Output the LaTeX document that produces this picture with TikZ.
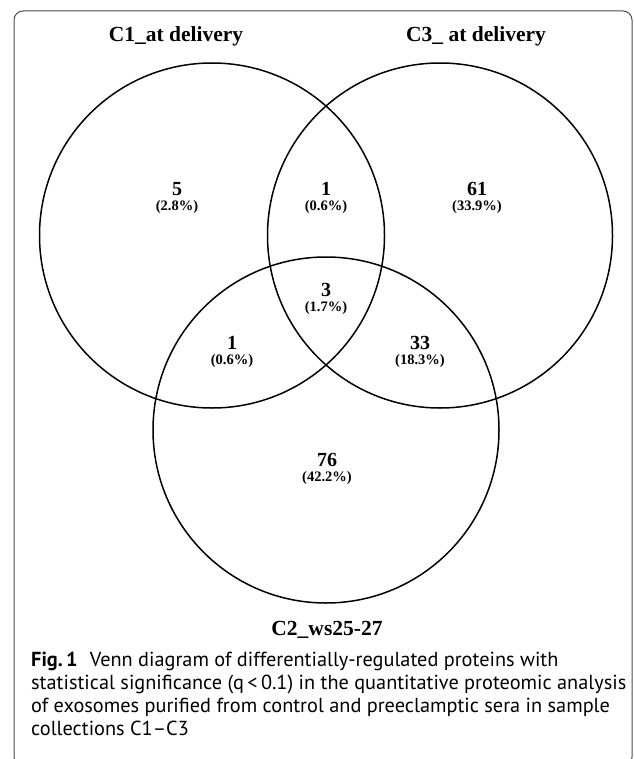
\documentclass[tikz,border=0pt]{standalone}
\usepackage{fontspec}
\setmainfont{Liberation Serif}
\newfontfamily\capfont{PT Sans}
\begin{document}
\begin{tikzpicture}[x=1pt,y=-1pt,
  venn/.style={line width=1.5pt,draw=black},
  setlabel/.style={anchor=base,inner sep=0pt,font=\fontsize{21.5}{24}\selectfont\bfseries},
  num/.style={anchor=base,inner sep=0pt,font=\fontsize{20}{22}\selectfont\bfseries},
  pct/.style={anchor=base,inner sep=0pt,font=\fontsize{14.5}{16}\selectfont\bfseries},
  capline/.style={anchor=base west,inner sep=0pt,font=\capfont\fontsize{20.3}{23}\selectfont}]
\useasboundingbox (0,0) rectangle (633,759);
\begin{scope}
\clip (0,0) rectangle (633,759);
\draw[line width=1pt,draw=black!70,rounded corners=9pt] (14,11) rectangle (632,766);
\end{scope}
% circles
\draw[venn] (212,235.5) circle (172.5);
\draw[venn] (440,235.5) circle (172.5);
\draw[venn] (326,430) circle (173);
% set labels
\node[setlabel] (lc1) at (176,42) {C1\_at delivery};
\node[setlabel] (lc3) at (476,42) {C3\_ at delivery};
\node[setlabel] (lc2) at (327,635) {C2\_ws25-27};
% region counts
\node[num] (n5) at (177,196) {5};
\node[pct] (p5) at (177,211) {(2.8\%)};
\node[num] (n1a) at (326,196) {1};
\node[pct] (p1a) at (326,211) {(0.6\%)};
\node[num] (n61) at (477,195.5) {61};
\node[pct] (p61) at (477,210.5) {(33.9\%)};
\node[num] (n3) at (326,296) {3};
\node[pct] (p3) at (326,311.5) {(1.7\%)};
\node[num] (n1b) at (232,349) {1};
\node[pct] (p1b) at (232,364.5) {(0.6\%)};
\node[num] (n33) at (420,349) {33};
\node[pct] (p33) at (420,364.5) {(18.3\%)};
\node[num] (n76) at (327,466) {76};
\node[pct] (p76) at (327,481) {(42.2\%)};
% caption
\node[capline] (cap1) at (31,666) {\textbf{Fig.\,1}\hspace{0.6em}Venn diagram of differentially-regulated proteins with};
\node[capline] (cap2) at (31,689) {statistical significance (q\,<\,0.1) in the quantitative proteomic analysis};
\node[capline] (cap3) at (31,712) {of exosomes purified from control and preeclamptic sera in sample};
\node[capline] (cap4) at (31,735) {collections C1–C3};
\end{tikzpicture}
\end{document}
